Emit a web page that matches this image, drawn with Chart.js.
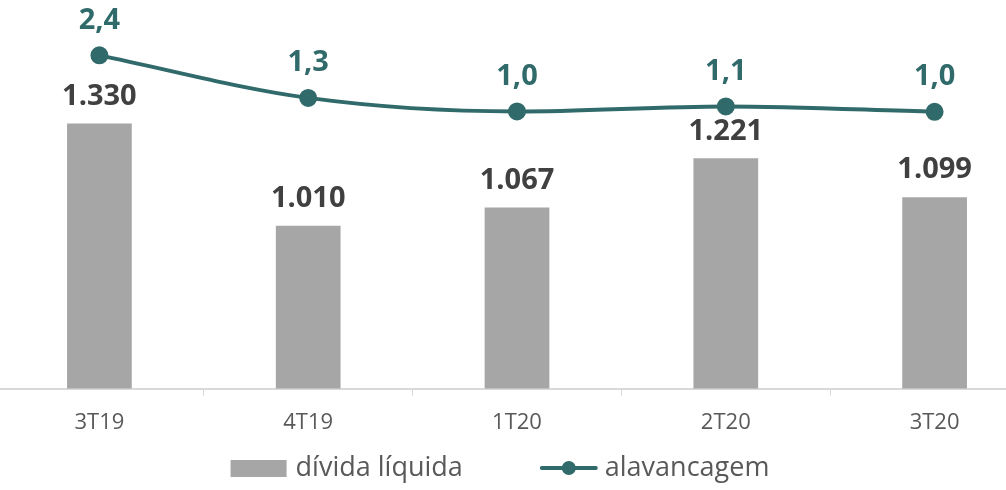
<!DOCTYPE html>
<html>
<head>
<meta charset="utf-8">
<script src="https://cdn.jsdelivr.net/npm/chart.js@4/dist/chart.umd.min.js"></script>
<style>
  html, body { margin: 0; padding: 0; background: #fff; overflow: hidden; }
  #wrap { width: 1044px; height: 490px; margin-left: -5px; }
</style>
</head>
<body>
<div id="wrap"><canvas id="area"></canvas></div>
<script>
var trimestres = ["3T19", "4T19", "1T20", "2T20", "3T20"];
var divida = [1330, 1010, 1067, 1221, 1099];
var alavancagem = [2.42, 1.32, 0.97, 1.10, 0.96];

var cinza = '#a6a6a6';
var verde = '#316a6a';
var fonte = "'Open Sans', 'Noto Sans', sans-serif";

// value labels above bars and points
var rotulos = {
  id: 'rotulos',
  afterDatasetsDraw: function (chart) {
    var ctx = chart.ctx;
    ctx.save();
    ctx.textAlign = 'center';
    ctx.textBaseline = 'middle';
    ctx.font = 'bold 29px ' + fonte;
    chart.data.datasets.forEach(function (ds, i) {
      var meta = chart.getDatasetMeta(i);
      meta.data.forEach(function (el, j) {
        var v = ds.data[j];
        if (ds.type === 'line') {
          ctx.fillStyle = verde;
          ctx.fillText(v.toFixed(1).replace('.', ','), el.x, el.y - 35);
        } else {
          ctx.fillStyle = '#404040';
          var s = String(v).replace(/\B(?=(\d{3})+(?!\d))/g, '.');
          ctx.fillText(s, el.x, el.y - 27);
        }
      });
    });
    ctx.restore();
  }
};

// legend drawn by hand: grey box + line with dot
var legenda = {
  id: 'legenda',
  afterDraw: function (chart) {
    var ctx = chart.ctx;
    var ds = chart.data.datasets;
    ctx.save();
    ctx.font = '27px ' + fonte;
    ctx.textBaseline = 'middle';
    var w1 = ctx.measureText(ds[1].label).width;
    var w2 = ctx.measureText(ds[0].label).width;
    var total = 56 + 9 + w1 + 77 + 58 + 7 + w2;
    var x = 505 - total / 2;
    var y = 468;
    ctx.fillStyle = cinza;
    ctx.fillRect(x, y - 8, 56, 17);
    x += 56 + 9;
    ctx.fillStyle = '#595959';
    ctx.fillText(ds[1].label, x, y);
    x += w1 + 77;
    ctx.strokeStyle = verde;
    ctx.lineWidth = 4;
    ctx.lineCap = 'round';
    ctx.beginPath(); ctx.moveTo(x + 2, y); ctx.lineTo(x + 56, y); ctx.stroke();
    ctx.fillStyle = verde;
    ctx.beginPath(); ctx.arc(x + 29, y, 7, 0, Math.PI * 2); ctx.fill();
    x += 58 + 7;
    ctx.fillStyle = '#595959';
    ctx.fillText(ds[0].label, x, y);
    ctx.restore();
  }
};

var ctx = document.getElementById('area');
var grafico = new Chart(ctx, {
  type: 'bar',
  data: {
    labels: trimestres,
    datasets: [
      {
        type: 'line',
        label: 'alavancagem',
        data: alavancagem,
        yAxisID: 'y2',
        borderColor: verde,
        backgroundColor: verde,
        borderWidth: 4,
        pointRadius: 7,
        pointHoverRadius: 7,
        cubicInterpolationMode: 'monotone',
        order: 0
      },
      {
        label: 'dívida líquida',
        data: divida,
        yAxisID: 'y',
        backgroundColor: cinza,
        categoryPercentage: 1,
        barPercentage: 0.31,
        order: 1
      }
    ]
  },
  options: {
    responsive: true,
    maintainAspectRatio: false,
    animation: false,
    layout: { autoPadding: false, padding: { left: 0, right: 0, top: 2, bottom: 40 } },
    scales: {
      x: {
        offset: true,
        grid: { offset: true, drawOnChartArea: false, color: '#d9d9d9', tickLength: 7 },
        border: { color: '#d9d9d9', width: 2 },
        ticks: { color: '#595959', font: { family: fonte, size: 22 }, padding: 14 }
      },
      y: { display: false, min: 500, max: 1710 },
      y2: { display: false, min: -6.2, max: 3.8 }
    },
    plugins: {
      tooltip: { enabled: false },
      legend: { display: false }
    }
  },
  plugins: [rotulos, legenda]
});
</script>
</body>
</html>
